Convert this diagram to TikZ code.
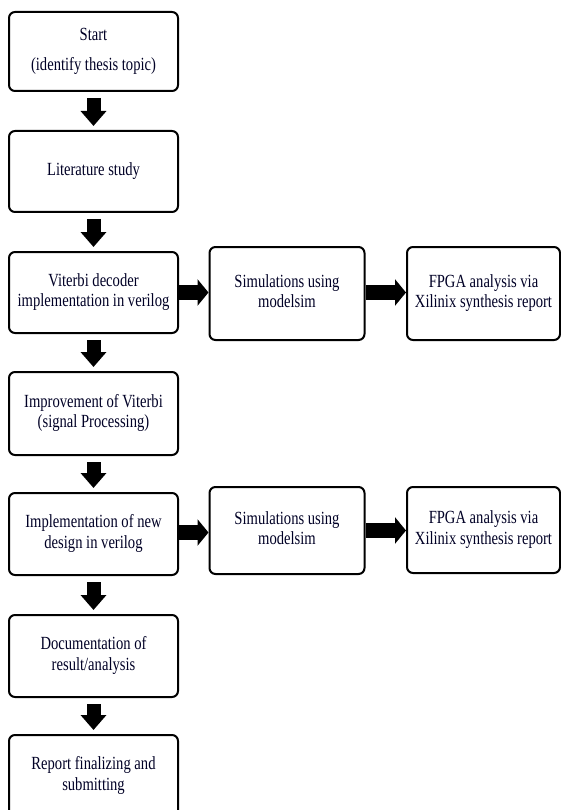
\documentclass[tikz,border=0pt]{standalone}
\usepackage{fontspec}
\usepackage{graphicx}
\setmainfont{Liberation Serif}
\usetikzlibrary{arrows.meta}
\newcommand{\stt}[1]{\scalebox{1}[1.27]{\begin{tabular}{@{}c@{}}#1\end{tabular}}}
\begin{document}
\begin{tikzpicture}[x=1pt,y=-1pt,
  box/.style={draw=black, line width=2pt, rounded corners=6pt, fill=white,
    inner sep=0pt, font=\fontsize{14.6}{15.8}\selectfont, text=black!85!blue},
  lbox/.style={box, minimum width=169pt},
  rbox/.style={box, minimum width=155pt},
  downarr/.style={line width=14pt, -{Triangle[length=15pt,width=25pt]}, shorten <=6pt, shorten >=4pt},
  rightarr/.style={line width=15pt, -{Triangle[length=11pt,width=26pt]}, shorten <=0pt, shorten >=0pt}
]
\fill[white] (0,0) rectangle (561,810);
\useasboundingbox (0,0) rectangle (561,810);
\clip (0,0) rectangle (561,810);

\node[lbox, minimum height=79pt] (b1) at (93.5,51.5) {\stt{Start\\[8pt](identify thesis topic)}};
\node[lbox, minimum height=81pt] (b2) at (93.5,171.5) {\stt{Literature study}};
\node[lbox, minimum height=81pt] (b3) at (93.5,292.5) {\stt{Viterbi decoder\\implementation in verilog}};
\node[lbox, minimum height=83pt] (b4) at (93.5,413.5) {\stt{Improvement of Viterbi\\(signal Processing)}};
\node[lbox, minimum height=82pt] (b5) at (93.5,534) {\stt{Implementation of new\\design in verilog}};
\node[lbox, minimum height=82pt] (b6) at (93.5,656) {\stt{Documentation of\\result/analysis}};
\node[lbox, minimum height=82pt] (b7) at (93.5,776) {\stt{Report finalizing and\\submitting}};

\node[rbox, minimum height=93pt] (s1) at (287,293.5) {\stt{Simulations using\\modelsim}};
\node[rbox, minimum width=153pt, minimum height=93pt] (f1) at (483.5,293.5) {\stt{FPGA analysis via\\Xilinix synthesis report}};
\node[rbox, minimum height=87pt] (s2) at (287,530.5) {\stt{Simulations using\\modelsim}};
\node[rbox, minimum width=153pt, minimum height=86pt] (f2) at (483.5,530) {\stt{FPGA analysis via\\Xilinix synthesis report}};

\draw[downarr] (b1.south) -- (b2.north);
\draw[downarr] (b2.south) -- (b3.north);
\draw[downarr] (b3.south) -- (b4.north);
\draw[downarr] (b4.south) -- (b5.north);
\draw[downarr] (b5.south) -- (b6.north);
\draw[downarr] (b6.south) -- (b7.north);

\draw[rightarr] (b3.east) -- (b3.east -| s1.west);
\draw[rightarr] (s1.east |- b3.east) -- (f1.west |- b3.east);
\draw[rightarr] (b5.east |- 0,532.5) -- (s2.west |- 0,532.5);
\draw[rightarr] (s2.east) -- (f2.west |- s2.east);
\end{tikzpicture}
\end{document}
